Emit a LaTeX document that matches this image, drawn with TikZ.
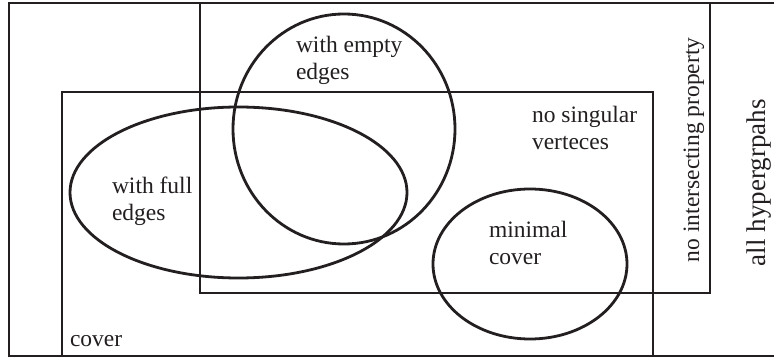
\documentclass[tikz,border=0pt]{standalone}
\usepackage{fontspec}
\setmainfont{Liberation Serif}
\newcommand{\twol}[2]{\vtop{\baselineskip=27pt\hbox{#1}\hbox{#2}}}
\definecolor{ink}{HTML}{231F20}
\begin{document}
\begin{tikzpicture}[x=1pt,y=-1pt,
  shapeline/.style={draw=ink,line width=2.8pt},
  lbl/.style={anchor=base west,inner sep=0pt,outer sep=0pt,text=ink,font=\fontsize{23.5}{27}\selectfont},
  vlbl/.style={lbl,rotate=90}]
\useasboundingbox (0,0) rectangle (774,358);
\clip (0,0) rectangle (774,358);
% outer rectangle (all hypergraphs)
\draw[shapeline] (9,3) rectangle (820,356);
% no intersecting property
\draw[shapeline] (200,3) rectangle (710,293);
% cover
\draw[shapeline] (62,92) rectangle (653,356);
% with empty edges
\draw[shapeline] (344,129) ellipse [x radius=111, y radius=115];
% with full edges
\draw[shapeline] (238.5,192.5) ellipse [x radius=168.5, y radius=85.5];
% minimal cover
\draw[shapeline] (530,264) ellipse [x radius=97, y radius=75];
% labels
\node[lbl] (le) at (296,53) {\twol{with empty}{edges}};
\node[lbl] (ls) at (532,123) {\twol{no singular}{verteces}};
\node[lbl] (lf) at (112,194) {\twol{with full}{edges}};
\node[lbl] (lm) at (489,238) {\twol{minimal}{cover}};
\node[lbl] (lc) at (70,346) {cover};
\node[vlbl] (ln) at (699,262) {no intersecting property};
\node[vlbl,font=\fontsize{27}{31}\selectfont] (la) at (765,266) {all hypergrpahs};
\end{tikzpicture}
\end{document}
